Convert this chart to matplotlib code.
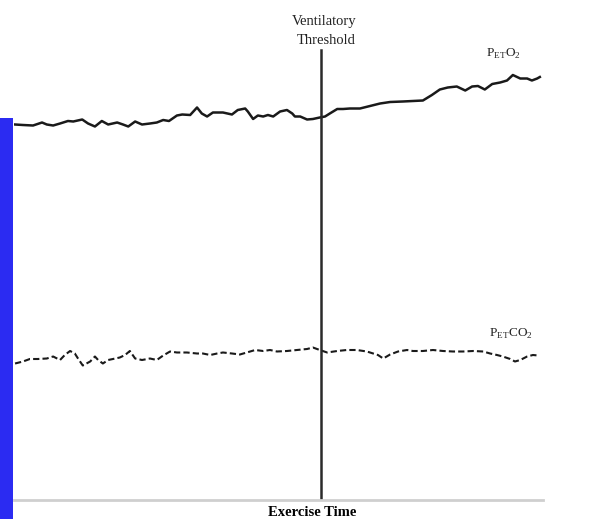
import matplotlib
matplotlib.use('Agg')
import matplotlib.pyplot as plt
from matplotlib.patches import Rectangle

plt.rcParams['font.family'] = 'Liberation Serif'
plt.rcParams['mathtext.fontset'] = 'custom'
plt.rcParams['mathtext.rm'] = 'Liberation Serif'

# exercise time (arbitrary units 0-100) and partial pressures (arbitrary units)
t_o2 = [0.2, 1.7, 3.6, 5.3, 6.2, 7.4, 8.7, 10.2, 11.2, 12.9, 14.0, 15.3, 16.6, 17.8,
        19.5, 20.6, 21.6, 22.9, 24.2, 25.7, 27.0, 28.2, 29.3, 30.8, 31.8, 33.3, 34.6,
        35.5, 36.5, 37.6, 39.5, 41.2, 42.3, 43.7, 44.2, 45.2, 46.1, 47.1, 48.0, 49.0,
        50.3, 51.6, 52.6, 53.1, 54.1, 55.4, 56.5, 57.8, 58.8, 59.7, 61.1, 62.2, 63.5,
        65.4, 67.3, 69.2, 71.1, 73.5, 77.3, 79.0, 80.5, 82.0, 83.7, 85.3, 86.6, 87.7,
        89.0, 90.4, 91.9, 93.2, 94.3, 95.7, 97.0, 97.9, 98.9, 99.4]
pet_o2 = [75.1, 75.0, 74.9, 75.5, 75.1, 74.9, 75.3, 75.8, 75.7, 76.1, 75.3, 74.7, 75.8, 75.1,
          75.5, 75.1, 74.7, 75.7, 75.1, 75.3, 75.5, 76.0, 75.8, 76.9, 77.1, 77.0, 78.5,
          77.3, 76.7, 77.5, 77.5, 77.1, 78.0, 78.3, 77.7, 76.2, 76.9, 76.7, 77.0, 76.7,
          77.7, 78.0, 77.3, 76.7, 76.7, 76.1, 76.2, 76.5, 76.7, 77.3, 78.2, 78.2, 78.3,
          78.3, 78.8, 79.3, 79.6, 79.7, 79.9, 81.0, 82.1, 82.5, 82.7, 81.9, 82.7, 82.8,
          82.1, 83.2, 83.5, 83.9, 85.0, 84.3, 84.3, 83.9, 84.3, 84.6]

t_co2 = [0.2, 1.7, 3.0, 4.5, 6.2, 7.4, 8.7, 9.6, 10.6, 11.5, 12.1, 13.0, 14.4, 15.3,
         15.9, 16.8, 17.8, 18.7, 20.0, 21.0, 21.9, 22.9, 24.2, 25.7, 27.0, 28.2, 29.5,
         30.8, 32.7, 34.6, 35.7, 37.1, 38.4, 39.5, 41.2, 42.7, 44.0, 45.6, 47.1, 48.4,
         49.7, 51.6, 53.5, 55.4, 56.5, 57.8, 59.2, 61.1, 62.9, 64.8, 66.7, 67.9, 68.8,
         69.8, 71.1, 72.6, 74.3, 75.4, 77.3, 79.2, 81.1, 83.0, 84.9, 86.8, 88.7, 90.0,
         91.3, 92.4, 93.8, 94.7, 95.7, 97.0, 98.1, 99.1]
pet_co2 = [27.3, 27.7, 28.2, 28.2, 28.3, 28.7, 28.0, 29.0, 29.8, 29.3, 28.3, 26.9, 27.7, 28.7,
           28.0, 27.3, 28.0, 28.2, 28.5, 29.0, 29.8, 28.3, 28.0, 28.3, 28.0, 28.9, 29.7,
           29.5, 29.5, 29.3, 29.3, 29.0, 29.3, 29.5, 29.3, 29.1, 29.5, 30.0, 29.8, 30.0,
           29.7, 29.8, 30.0, 30.2, 30.5, 30.0, 29.5, 29.8, 30.0, 30.0, 29.7, 29.3, 29.0,
           28.3, 29.1, 29.7, 30.0, 29.8, 29.8, 30.0, 29.8, 29.7, 29.7, 29.8, 29.7, 29.3,
           29.0, 28.7, 28.2, 27.7, 28.0, 28.7, 29.0, 28.9]

vt_time = 58.0
vt_top = 90.0

fig = plt.figure(figsize=(6.03, 5.19), dpi=100)
fig.patch.set_facecolor('white')

# blue bar on the left edge
fig.patches.append(Rectangle((0, 0), 13/603, 401/519, transform=fig.transFigure,
                             facecolor='#2b2bf2', edgecolor='none', zorder=0))

ax = fig.add_axes([14/603, 19/519, 529/603, 500/519])
ax.set_xlim(0, 100)
ax.set_ylim(0, 100)
ax.patch.set_alpha(0)

ax.plot(t_o2, pet_o2, color='#1a1a1a', lw=1.8)
ax.plot(t_co2, pet_co2, color='#1a1a1a', lw=1.5, ls=(0, (3, 1.5)))
ax.plot([vt_time, vt_time], [0, vt_top], color='#2a2a2a', lw=1.8)

for s in ['top', 'right', 'left']:
    ax.spines[s].set_visible(False)
ax.spines['bottom'].set_color('#cfcfcf')
ax.spines['bottom'].set_linewidth(2)
ax.set_xticks([])
ax.set_yticks([])

ax.text(vt_time + 0.6, 95.6, 'Ventilatory', ha='center', va='center',
        fontsize=10.5, color='#222222')
ax.text(vt_time + 1.0, 92.0, 'Threshold', ha='center', va='center',
        fontsize=10.5, color='#222222')
ax.text(92.5, 89.3, r'P$_{\mathrm{ET}}$O$_2$', ha='center', va='center', fontsize=9.5, color='#222222')
ax.text(94.0, 33.3, r'P$_{\mathrm{ET}}$CO$_2$', ha='center', va='center', fontsize=9.5, color='#222222')
ax.set_xlabel('Exercise Time', fontsize=10.5, fontweight='bold', labelpad=2)
ax.xaxis.set_label_coords(0.563, -0.013, transform=ax.transAxes)
ax.xaxis.label.set_va('top')

fig.savefig('out.png', dpi=100)
